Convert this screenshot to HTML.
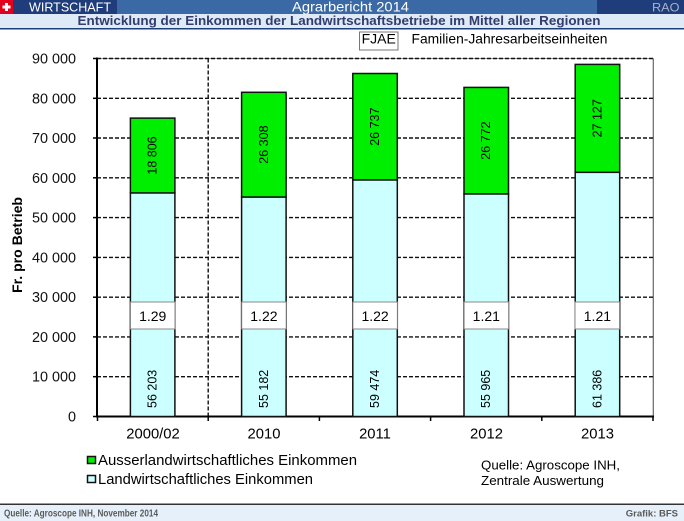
<!DOCTYPE html>
<html><head><meta charset="utf-8"><style>
html,body{margin:0;padding:0;background:#fff;}
svg{display:block;}
text{font-family:"Liberation Sans",Arial,sans-serif;}
</style></head><body>
<svg width="684" height="521" viewBox="0 0 684 521" xmlns="http://www.w3.org/2000/svg">
<!-- header row 1 -->
<rect x="0" y="0" width="684" height="14" fill="#3a69a5"/>
<rect x="13" y="0" width="104" height="14" fill="#1f3d7b"/>
<rect x="597" y="0" width="87" height="14" fill="#1f3d7b"/>
<rect x="0" y="0" width="13" height="14" fill="#e2001a"/>
<rect x="5" y="3" width="3" height="8" fill="#fff"/>
<rect x="2.5" y="5.5" width="8" height="3" fill="#fff"/>
<text x="29" y="11.6" font-size="12.5" fill="#fff" textLength="82" lengthAdjust="spacingAndGlyphs">WIRTSCHAFT</text>
<text x="292" y="11.6" font-size="13.7" fill="#fff" textLength="117" lengthAdjust="spacingAndGlyphs">Agrarbericht 2014</text>
<text x="652" y="11.6" font-size="12.4" fill="#a6b3c9" textLength="27.5" lengthAdjust="spacingAndGlyphs">RAO</text>
<!-- header row 2 -->
<rect x="0" y="14" width="684" height="14" fill="#dfeaf7"/>
<rect x="0" y="28" width="684" height="1.5" fill="#1f3d7b"/>
<text x="77.5" y="25" font-size="12.5" font-weight="bold" fill="#333d6e" textLength="523" lengthAdjust="spacingAndGlyphs">Entwicklung der Einkommen der Landwirtschaftsbetriebe im Mittel aller Regionen</text>

<!-- FJAE legend -->
<rect x="359.5" y="32" width="38.5" height="18" fill="#fff" stroke="#777" stroke-width="1"/>
<text x="378.7" y="43.5" font-size="14" text-anchor="middle" fill="#000">FJAE</text>
<text x="411.5" y="43.5" font-size="14" fill="#000" textLength="196" lengthAdjust="spacingAndGlyphs">Familien-Jahresarbeitseinheiten</text>

<!-- plot frame -->
<line x1="97" y1="58.5" x2="653.5" y2="58.5" stroke="#999" stroke-width="1"/>
<line x1="653.3" y1="58.5" x2="653.3" y2="417" stroke="#666" stroke-width="1.2"/>

<!-- gridlines -->
<g stroke="#111" stroke-width="1.4" stroke-dasharray="4,2">
<line x1="97" y1="58.5" x2="653" y2="58.5"/>
<line x1="97" y1="98.3" x2="653" y2="98.3"/>
<line x1="97" y1="138.0" x2="653" y2="138.0"/>
<line x1="97" y1="177.8" x2="653" y2="177.8"/>
<line x1="97" y1="217.6" x2="653" y2="217.6"/>
<line x1="97" y1="257.4" x2="653" y2="257.4"/>
<line x1="97" y1="297.2" x2="653" y2="297.2"/>
<line x1="97" y1="336.9" x2="653" y2="336.9"/>
<line x1="97" y1="376.7" x2="653" y2="376.7"/>
<line x1="208.2" y1="58.5" x2="208.2" y2="416.5"/>
</g>

<!-- axes -->
<line x1="97" y1="57.5" x2="97" y2="417.5" stroke="#000" stroke-width="2"/>
<line x1="96" y1="416.5" x2="654" y2="416.5" stroke="#000" stroke-width="2"/>
<g stroke="#000" stroke-width="1.5">
<line x1="93" y1="58.5" x2="97" y2="58.5"/>
<line x1="93" y1="98.3" x2="97" y2="98.3"/>
<line x1="93" y1="138.0" x2="97" y2="138.0"/>
<line x1="93" y1="177.8" x2="97" y2="177.8"/>
<line x1="93" y1="217.6" x2="97" y2="217.6"/>
<line x1="93" y1="257.4" x2="97" y2="257.4"/>
<line x1="93" y1="297.2" x2="97" y2="297.2"/>
<line x1="93" y1="336.9" x2="97" y2="336.9"/>
<line x1="93" y1="376.7" x2="97" y2="376.7"/>
<line x1="93" y1="416.5" x2="97" y2="416.5"/>
<line x1="97.5" y1="416.5" x2="97.5" y2="421"/>
<line x1="208.2" y1="416.5" x2="208.2" y2="421"/>
<line x1="319.4" y1="416.5" x2="319.4" y2="421"/>
<line x1="430.6" y1="416.5" x2="430.6" y2="421"/>
<line x1="541.8" y1="416.5" x2="541.8" y2="421"/>
<line x1="653" y1="416.5" x2="653" y2="421"/>
</g>

<!-- y tick labels -->
<g font-size="14.4" fill="#111" text-anchor="end">
<text x="76" y="63.5">90 000</text>
<text x="76" y="103.3">80 000</text>
<text x="76" y="143.0">70 000</text>
<text x="76" y="182.8">60 000</text>
<text x="76" y="222.6">50 000</text>
<text x="76" y="262.4">40 000</text>
<text x="76" y="302.2">30 000</text>
<text x="76" y="341.9">20 000</text>
<text x="76" y="381.7">10 000</text>
<text x="76" y="421.5">0</text>
</g>
<text transform="translate(22,245) rotate(-90)" font-size="13.5" font-weight="bold" text-anchor="middle" fill="#000" textLength="96" lengthAdjust="spacingAndGlyphs">Fr. pro Betrieb</text>

<!-- bars -->
<g stroke="#111" stroke-width="1.5">
<rect x="130.4" y="192.9" width="44.5" height="223.6" fill="#ccffff"/>
<rect x="130.4" y="118.1" width="44.5" height="74.8" fill="#00ee00"/>
<rect x="241.6" y="197.0" width="44.5" height="219.5" fill="#ccffff"/>
<rect x="241.6" y="92.3" width="44.5" height="104.7" fill="#00ee00"/>
<rect x="352.8" y="179.9" width="44.5" height="236.6" fill="#ccffff"/>
<rect x="352.8" y="73.5" width="44.5" height="106.4" fill="#00ee00"/>
<rect x="464.0" y="193.9" width="44.5" height="222.6" fill="#ccffff"/>
<rect x="464.0" y="87.4" width="44.5" height="106.5" fill="#00ee00"/>
<rect x="575.2" y="172.3" width="44.5" height="244.2" fill="#ccffff"/>
<rect x="575.2" y="64.4" width="44.5" height="107.9" fill="#00ee00"/>
</g>

<!-- FJAE boxes -->
<g fill="#fff" stroke="#888" stroke-width="1">
<rect x="130.5" y="302" width="44.5" height="27"/>
<rect x="241.7" y="302" width="44.5" height="27"/>
<rect x="352.9" y="302" width="44.5" height="27"/>
<rect x="464.1" y="302" width="44.5" height="27"/>
<rect x="575.0" y="302" width="44.5" height="27"/>
</g>
<g font-size="14" fill="#000" text-anchor="middle">
<text x="152.7" y="321">1.29</text>
<text x="263.9" y="321">1.22</text>
<text x="375.1" y="321">1.22</text>
<text x="486.3" y="321">1.21</text>
<text x="597.4" y="321">1.21</text>
</g>

<!-- rotated value labels -->
<g font-size="12.5" fill="#000">
<text transform="translate(152.6,155.5) rotate(-90)" text-anchor="middle" dominant-baseline="central">18 806</text>
<text transform="translate(263.8,144.6) rotate(-90)" text-anchor="middle" dominant-baseline="central">26 308</text>
<text transform="translate(375.0,126.7) rotate(-90)" text-anchor="middle" dominant-baseline="central">26 737</text>
<text transform="translate(486.2,140.6) rotate(-90)" text-anchor="middle" dominant-baseline="central">26 772</text>
<text transform="translate(597.4,118.3) rotate(-90)" text-anchor="middle" dominant-baseline="central">27 127</text>
<text transform="translate(152.6,408) rotate(-90)" dominant-baseline="central">56 203</text>
<text transform="translate(263.8,408) rotate(-90)" dominant-baseline="central">55 182</text>
<text transform="translate(375.0,408) rotate(-90)" dominant-baseline="central">59 474</text>
<text transform="translate(486.2,408) rotate(-90)" dominant-baseline="central">55 965</text>
<text transform="translate(597.4,408) rotate(-90)" dominant-baseline="central">61 386</text>
</g>

<!-- x labels -->
<g font-size="14.8" fill="#000" text-anchor="middle">
<text x="153" y="438.5">2000/02</text>
<text x="264" y="438.5">2010</text>
<text x="375" y="438.5">2011</text>
<text x="486.5" y="438.5">2012</text>
<text x="597.5" y="438.5">2013</text>
</g>

<!-- legend -->
<rect x="87.5" y="456.5" width="8" height="7" fill="#00ee00" stroke="#111" stroke-width="1.5"/>
<rect x="87.5" y="475.5" width="8" height="7" fill="#ccffff" stroke="#111" stroke-width="1.5"/>
<text x="98" y="465" font-size="15" fill="#000" textLength="259" lengthAdjust="spacingAndGlyphs">Ausserlandwirtschaftliches Einkommen</text>
<text x="98" y="484" font-size="15" fill="#000" textLength="215" lengthAdjust="spacingAndGlyphs">Landwirtschaftliches Einkommen</text>
<text x="481" y="469.5" font-size="13" fill="#000" textLength="139" lengthAdjust="spacingAndGlyphs">Quelle: Agroscope INH,</text>
<text x="481" y="485" font-size="13" fill="#000" textLength="123" lengthAdjust="spacingAndGlyphs">Zentrale Auswertung</text>

<!-- footer -->
<rect x="0" y="505" width="684" height="16" fill="#e6f0fa"/>
<rect x="0" y="503.5" width="684" height="1.5" fill="#333"/>
<text x="4" y="516.5" font-size="10" font-weight="bold" fill="#5a5a5a" textLength="154" lengthAdjust="spacingAndGlyphs">Quelle: Agroscope INH, November 2014</text>
<text x="678" y="516.5" font-size="9.5" font-weight="bold" fill="#5a5a5a" text-anchor="end">Grafik: BFS</text>
</svg>
</body></html>
